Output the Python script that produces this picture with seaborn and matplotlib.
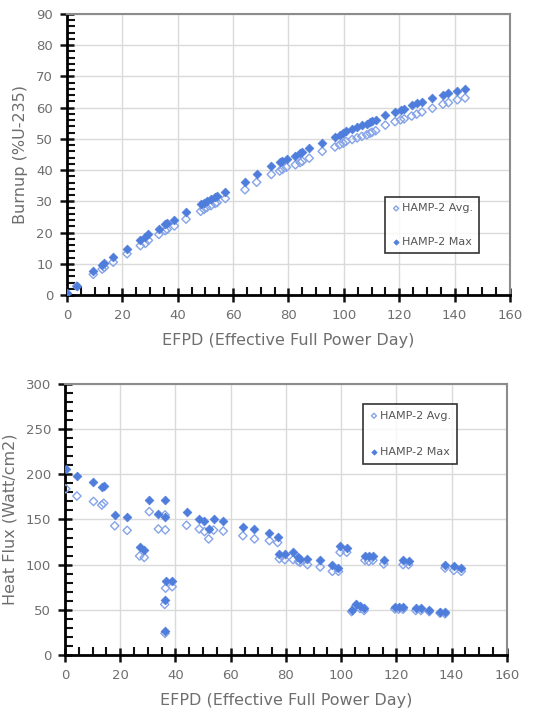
import numpy as np
import pandas as pd
import matplotlib
matplotlib.use("Agg")
import matplotlib.pyplot as plt
import seaborn as sns
from matplotlib.ticker import MultipleLocator

sns.set_style("ticks")
plt.rcParams['font.family'] = ['DejaVu Sans']

# burnup data (EFPD, avg, max)
bu_efpd = [0, 3.5, 9.5, 12.7, 13.5, 16.7, 21.7, 26.5, 28.3, 29.4, 33.2, 35.5, 36.2, 38.8,
           43.0, 48.3, 49.5, 50.5, 52.0, 53.5, 54.2, 57.2, 64.3, 68.5, 73.8, 76.8, 77.8,
           79.3, 82.5, 84.2, 85.0, 87.5, 92.2, 96.8, 98.5, 99.8, 100.8, 103.0, 104.8,
           106.5, 108.3, 109.5, 110.2, 111.5, 115.0, 118.5, 120.5, 121.8, 124.5, 126.3,
           128.2, 132.0, 135.8, 137.8, 141.0, 143.8]
bu_avg = [0.4, 2.8, 6.6, 8.3, 8.8, 10.5, 13.2, 15.8, 16.5, 17.5, 19.4, 20.6, 21.0, 22.1,
          24.3, 26.8, 27.4, 28.0, 28.6, 29.3, 29.6, 30.9, 33.7, 36.1, 38.6, 39.7, 40.2,
          40.9, 41.7, 42.4, 42.8, 43.8, 46.0, 47.4, 48.1, 48.6, 49.2, 49.8, 50.3,
          50.8, 51.3, 51.8, 52.1, 52.6, 54.4, 55.5, 56.1, 56.4, 57.3, 57.9,
          58.6, 59.8, 61.1, 61.6, 62.5, 63.1]
bu_max = [0.6, 3.0, 7.7, 9.5, 10.1, 12.3, 14.8, 17.6, 18.7, 19.4, 21.2, 22.6, 23.0, 24.0,
          26.6, 29.0, 29.5, 30.0, 30.6, 31.4, 31.8, 33.1, 36.3, 38.7, 41.4, 42.5, 43.0,
          43.6, 44.6, 45.4, 45.8, 47.0, 48.8, 50.6, 51.3, 51.9, 52.5, 53.1, 53.7,
          54.3, 54.9, 55.3, 55.7, 56.2, 57.5, 58.6, 59.2, 59.7, 60.8, 61.4,
          61.9, 63.0, 64.0, 64.6, 65.4, 66.1]

# heat flux data (EFPD, avg, max)
hf_efpd = [0.3, 4.3, 10.3, 13.3, 14.0, 18.0, 22.5, 27.0, 28.7, 30.5, 33.8, 36.2, 36.3,
           36.4, 38.8, 36.1, 36.2, 44.0, 48.6, 50.5, 52.0, 53.8, 57.3, 64.4, 68.6, 74.0,
           77.0, 77.6, 79.6, 82.6, 84.5, 85.1, 87.8, 92.4, 96.8, 99.0, 99.6, 102.0,
           103.8, 105.2, 106.8, 108.3, 108.6, 110.0, 111.5, 115.4, 119.4, 120.8, 122.4,
           122.4, 124.4, 127.0, 128.9, 131.9, 135.8, 137.6, 137.6, 140.8, 143.5]
hf_avg = [184, 176, 170, 166, 168, 143, 138, 109.6, 108, 158.7, 139.5, 155, 138.5,
          74, 75.6, 56, 24, 143.6, 139.5, 136.6, 128.5, 138.3, 137.2, 132, 128.5, 126.6,
          124.5, 106.6, 105.5, 105.5, 103.6, 102.5, 100, 97.4, 92.6, 92.6, 113.7, 113.7,
          48, 54, 51.5, 49.3, 104.8, 103.7, 104.8, 100.7, 51, 50.7, 50.7,
          100, 100, 49.3, 49.3, 48, 46.3, 45.6, 96.3, 93.7, 92.6]
hf_max = [206, 198.5, 191, 186, 187, 155, 152.5, 120, 116, 171.6, 156, 171.6, 152.5,
          81.6, 81.6, 61.3, 27, 158.7, 150, 148.2, 139.4, 150, 148.5, 142, 139.4, 134.7,
          131, 112, 112, 113.5, 108, 106.6, 106.2, 104.8, 100, 96.3, 120.4, 118.5,
          50, 56.7, 53.7, 51.9, 110, 110, 110, 105.5, 53, 53, 53,
          104.8, 103.7, 51.9, 51.9, 50, 48.1, 48.1, 100, 98.1, 96.3]

fill_c = "#4F7DDB"
open_c = "#86A4E8"
txt_c = "#6E6E6E"


def draw(ax, efpd, avg, mx, ymax, ystep, yminor, ylabel, leg_anchor, lspace):
    df = pd.DataFrame({"EFPD": efpd, "HAMP-2 Avg.": avg, "HAMP-2 Max": mx})
    df = df.melt(id_vars="EFPD", var_name="series", value_name="val")
    a = df[df.series == "HAMP-2 Avg."]
    m = df[df.series == "HAMP-2 Max"]
    sns.scatterplot(data=a, x="EFPD", y="val", ax=ax, marker="D", s=18,
                    facecolor="none", edgecolor=open_c, linewidth=1.0,
                    label="HAMP-2 Avg.", zorder=3)
    sns.scatterplot(data=m, x="EFPD", y="val", ax=ax, marker="D", s=20,
                    color=fill_c, edgecolor=fill_c, linewidth=0.5,
                    label="HAMP-2 Max", zorder=4)
    ax.set_xlim(0, 160)
    ax.set_ylim(0, ymax)
    ax.xaxis.set_major_locator(MultipleLocator(20))
    ax.xaxis.set_minor_locator(MultipleLocator(5))
    ax.yaxis.set_major_locator(MultipleLocator(ystep))
    ax.yaxis.set_minor_locator(MultipleLocator(yminor))
    ax.grid(True, which="major", color="#DADADA", linewidth=1.0)
    ax.set_axisbelow(True)
    for s in ["left", "bottom"]:
        ax.spines[s].set_color("black")
        ax.spines[s].set_linewidth(2.0)
    for s in ["top", "right"]:
        ax.spines[s].set_color("#8C8C8C")
        ax.spines[s].set_linewidth(1.5)
    ax.set_xlabel("EFPD (Effective Full Power Day)", color=txt_c, fontsize=11.5, labelpad=8)
    ax.set_ylabel(ylabel, color=txt_c, fontsize=11.5, labelpad=6)
    leg = ax.legend(loc="upper left", bbox_to_anchor=leg_anchor, frameon=True,
                    fancybox=False, edgecolor="black", fontsize=8, labelspacing=lspace,
                    handletextpad=0.1, borderpad=0.6, markerscale=0.6,
                    handlelength=0.8, borderaxespad=0)
    leg.get_frame().set_linewidth(1.2)
    for t in leg.get_texts():
        t.set_color("#555555")
    # ticks set last
    ax.tick_params(which="major", direction="inout", length=10, width=1.8,
                   colors="#111111", labelcolor=txt_c, labelsize=9.5, pad=5,
                   bottom=True, left=True, top=False, right=False)
    ax.tick_params(which="minor", direction="in", length=6, width=1.5,
                   colors="#111111", bottom=True, left=True, top=False, right=False)


fig = plt.figure(figsize=(5.33, 7.16), dpi=100)
ax1 = fig.add_axes([0.1257, 0.588, 0.831, 0.3925])
ax2 = fig.add_axes([0.122, 0.0852, 0.829, 0.3785])

draw(ax1, bu_efpd, bu_avg, bu_max, 90, 10, 2, "Burnup (%U-235)", (0.718, 0.35), 2.1)
draw(ax2, hf_efpd, hf_avg, hf_max, 300, 50, 10, "Heat Flux (Watt/cm2)", (0.674, 0.926), 2.4)

fig.savefig("out.png", dpi=100)
